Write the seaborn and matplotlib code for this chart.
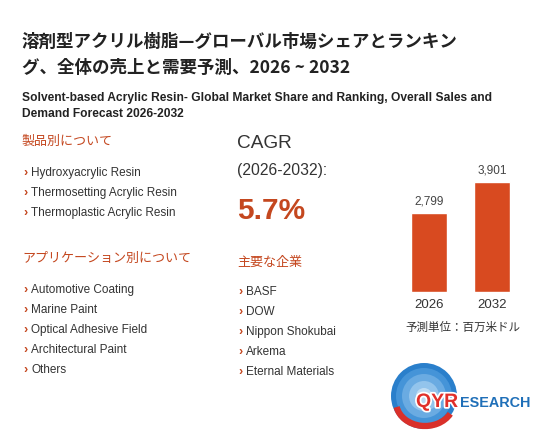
import matplotlib
matplotlib.use("Agg")
import matplotlib.pyplot as plt
import matplotlib.patheffects as pe
import seaborn as sns
import pandas as pd
from matplotlib.patches import Circle, Arc

years = ["2026", "2032"]
sales = [2799, 3901]
product_types = ["Hydroxyacrylic Resin", "Thermosetting Acrylic Resin", "Thermoplastic Acrylic Resin"]
applications = ["Automotive Coating", "Marine Paint", "Optical Adhesive Field",
                "Architectural Paint", "Others"]
companies = ["BASF", "DOW", "Nippon Shokubai", "Arkema", "Eternal Materials"]
cagr = "5.7%"

W, H = 560, 445
RED = "#C4471F"
BAR = "#D84A20"
JP = ["Noto Sans CJK JP", "DejaVu Sans"]
EN = ["Liberation Sans", "DejaVu Sans"]

sns.set_theme(style="white")
fig = plt.figure(figsize=(W / 100, H / 100), dpi=100)
fig.patch.set_facecolor("white")


def put(x, y, s, **kw):
    kw.setdefault("va", "center")
    return fig.text(x / W, 1 - y / H, s, **kw)


# titles
put(22, 42, "溶剤型アクリル樹脂—グローバル市場シェアとランキン", family=JP,
    fontsize=12.6, fontweight="bold", color="#222222")
put(22, 68, "グ、全体の売上と需要予測、2026 ~ 2032", family=JP,
    fontsize=12.6, fontweight="bold", color="#222222")
put(22, 98, "Solvent-based Acrylic Resin- Global Market Share and Ranking, Overall Sales and",
    family=EN, fontsize=8.65, fontweight="bold", color="#222222")
put(22, 114, "Demand Forecast 2026-2032",
    family=EN, fontsize=8.65, fontweight="bold", color="#222222")


def bullet_list(x, y0, items, step=20):
    for i, s in enumerate(items):
        y = y0 + i * step
        put(x, y, "›", family=EN, fontsize=9, fontweight="bold", color=RED)
        put(x + 8, y, s, family=EN, fontsize=8.5, color="#333333")


put(22, 141, "製品別について", family=JP, fontsize=9.4, color=RED)
bullet_list(23, 173, product_types)
put(22, 258, "アプリケーション別について", family=JP, fontsize=9.4, color=RED)
bullet_list(23, 290, applications)

put(237, 143, "CAGR", family=EN, fontsize=13.7, color="#333333")
put(237, 170, "(2026-2032):", family=EN, fontsize=11.3, color="#333333")
put(237, 211, cagr, family=EN, fontsize=21.5, fontweight="bold", color=RED)
put(237, 262, "主要な企業", family=JP, fontsize=9.4, color=RED)
bullet_list(238, 292, companies)

# bar chart
df = pd.DataFrame({"year": years, "sales": sales})
ax_l, ax_r, ax_b, ax_t = 397.5, 523.5, 292, 159.5
ax = fig.add_axes([ax_l / W, 1 - ax_b / H, (ax_r - ax_l) / W, (ax_b - ax_t) / H])
sns.barplot(data=df, x="year", y="sales", color=BAR, width=0.571, saturation=1, ax=ax)
ax.set_xlim(-0.5, 1.5)
ax.set_ylim(0, 4700)
ax.bar_label(ax.containers[0], labels=[f"{v:,}" for v in sales], padding=4,
             fontsize=8.5, color="#444444", family=EN)
ax.set_xlabel("")
ax.set_ylabel("")
ax.set_yticks([])
ax.tick_params(axis="x", length=0, pad=5, labelsize=9.5, labelcolor="#333333")
for lab in ax.get_xticklabels():
    lab.set_family(EN)
for sp in ax.spines.values():
    sp.set_visible(False)
ax.patch.set_alpha(0)
put(463, 327, "予測単位：百万米ドル", family=JP, fontsize=8.3, color="#333333", ha="center")

# logo (y axis runs downward here, so arc angles are mirrored)
lg = fig.add_axes([0, 0, 1, 1], zorder=-1)
lg.set_xlim(0, W)
lg.set_ylim(H, 0)
lg.axis("off")
for r, c in [(33, "#2A7FCB"), (28, "#4594D8"), (22, "#6AABE2"), (15, "#93C4EC"), (8, "#BEDCF4")]:
    lg.add_patch(Circle((424, 396), r, color=c, lw=0))
lg.add_patch(Arc((425, 402), 58, 48, theta1=25, theta2=170, color="#D9302A", lw=4.5))
t = put(416, 407, "QYR", family=EN, fontsize=14, fontweight="bold", color="#E0302A", va="baseline")
t.set_path_effects([pe.withStroke(linewidth=2.5, foreground="white")])
put(460, 407, "ESEARCH", family=EN, fontsize=10.4, fontweight="bold", color="#1F6FB8", va="baseline")

fig.savefig("out.png", dpi=100, facecolor="white")
